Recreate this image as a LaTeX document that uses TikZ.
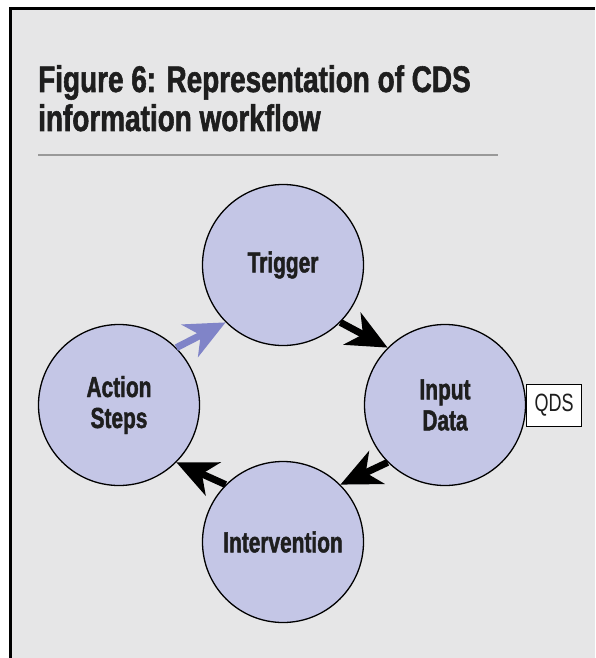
\documentclass[tikz,border=0pt]{standalone}
\usepackage{fontspec}
\setmainfont{Liberation Sans}[FakeStretch=0.72, BoldFeatures={FakeBold=1.5}]
\newfontfamily\headfont{Liberation Sans}[FakeStretch=0.755, BoldFeatures={FakeBold=1.5}]
\usetikzlibrary{arrows.meta}

\definecolor{panelgray}{RGB}{230,230,231}
\definecolor{stagefill}{RGB}{196,198,230}
\definecolor{loopblue}{RGB}{128,132,200}
\definecolor{inkdark}{RGB}{30,30,30}

\tikzset{
  stage/.style = {circle, draw = black, line width = 1.3pt, fill = stagefill,
                  minimum size = 161pt, inner sep = 0pt, align = center,
                  text = inkdark, font = \fontsize{29}{31}\selectfont\bfseries},
  flow/.style  = {line width = 7pt, draw = black,
                  -{Stealth[length = 40pt 0, width = 36pt 0, inset = 12pt 0]}},
  tag/.style   = {draw = black, line width = 0.8pt, fill = white,
                  minimum width = 55pt, minimum height = 42pt, inner sep = 0pt,
                  font = \fontsize{25}{25}\selectfont, text = inkdark},
  heading/.style = {anchor = base west, inner sep = 0pt, text = inkdark,
                    font = \headfont\fontsize{37}{37}\selectfont\bfseries}
}

\begin{document}
\begin{tikzpicture}[x = 1pt, y = -1pt]
\useasboundingbox (0,0) rectangle (595,658);
% panel
\fill [white] (0,0) rectangle (595,658);
\fill [panelgray] (10,8) rectangle (595,658);
\draw [line width = 3pt] (10.5,658) -- (10.5,8.5) -- (595,8.5);
% heading
\node [heading] (title1) at (38,92) {Figure 6: Representation of CDS};
\node [heading] (title2) at (38,131) {information workflow};
\draw [line width = 2pt, gray!80] (38,155) -- (498,155);
% the four stages
\node [stage] (trig)  at (283,265) {Trigger};
\node [stage] (input) at (445,405) {Input\\Data};
\node [stage] (inter) at (283,542) {Intervention};
\node [stage] (act)   at (119,405) {Action\\Steps};
\node [tag, anchor = west] (qds) at (input.east) {QDS};
% cycle
\draw [flow] (trig.-45) -- (input.135);
\draw [flow] (input.-135) -- (inter.45);
\draw [flow] (inter.135) -- (act.-45);
\draw [flow, draw = loopblue, fill = loopblue] (act.45) -- (trig.-135);
\end{tikzpicture}
\end{document}
